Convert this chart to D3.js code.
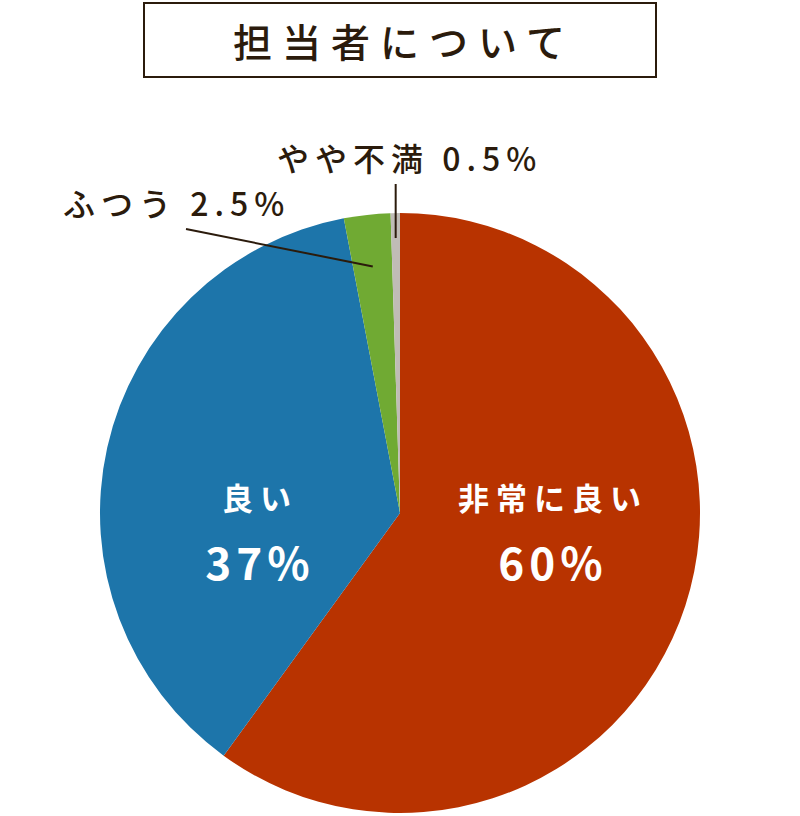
<!DOCTYPE html>
<html><head><meta charset="utf-8">
<script src="https://cdn.jsdelivr.net/npm/d3@7"></script>
<style>body{margin:0;background:#fff}</style>
</head><body>
<svg id="c" width="800" height="816"></svg>
<script>
const title = "担当者について";
const categories = ["非常に良い", "良い", "ふつう", "やや不満"];
const values = [60, 37, 2.5, 0.5];
const valueLabels = ["60%", "37%", "2.5%", "0.5%"];
const colors = ["#b83300", "#1d75aa", "#70aa33", "#c0bcb6"];

const svg = d3.select("#c");
const font = "'Noto Sans CJK JP', 'Noto Sans', sans-serif";
const dark = "#2b1b0c";

svg.append("rect").attr("x", 144).attr("y", 3).attr("width", 512).attr("height", 74)
  .attr("fill", "#fff").attr("stroke", dark).attr("stroke-width", 2);
svg.append("text").attr("x", 404).attr("y", 57).attr("text-anchor", "middle")
  .attr("font-family", font).attr("font-size", 39).attr("font-weight", 500)
  .attr("letter-spacing", 10).attr("fill", dark).text(title);

const cx = 400, cy = 513, r = 300;
const data = categories.map((c, i) => ({cat: c, value: values[i], label: valueLabels[i], color: colors[i]}));
const pie = d3.pie().value(d => d.value).sort(null);
const arcs = pie(data);
const arc = d3.arc().innerRadius(0).outerRadius(r);
const g = svg.append("g").attr("transform", `translate(${cx},${cy})`);
g.selectAll("path").data(arcs).join("path").attr("d", arc).attr("fill", d => d.data.color);

// inside labels
const inner = [{i:0, x:553, y1:510, y2:580}, {i:1, x:260, y1:510, y2:580}];
inner.forEach(o => {
  svg.append("text").attr("x", o.x).attr("y", o.y1).attr("text-anchor", "middle")
    .attr("font-family", font).attr("font-size", 31).attr("font-weight", 700)
    .attr("letter-spacing", 7).attr("fill", "#fff").text(categories[o.i]);
  svg.append("text").attr("x", o.x).attr("y", o.y2).attr("text-anchor", "middle")
    .attr("font-family", font).attr("font-size", 44).attr("font-weight", 700)
    .attr("letter-spacing", 5).attr("fill", "#fff").text(valueLabels[o.i]);
});

// outside labels
const pt = (a, rr) => [cx + rr * Math.sin(a), cy - rr * Math.cos(a)];
const aG = (arcs[2].startAngle + arcs[2].endAngle) / 2;
const aS = (arcs[3].startAngle + arcs[3].endAngle) / 2;
const pG = pt(aG, 248);
svg.append("line").attr("x1", 186).attr("y1", 229).attr("x2", pG[0]).attr("y2", pG[1])
  .attr("stroke", dark).attr("stroke-width", 2);
const pS = pt(aS, 275);
svg.append("line").attr("x1", pS[0]).attr("y1", 184).attr("x2", pS[0]).attr("y2", pS[1])
  .attr("stroke", dark).attr("stroke-width", 2);

svg.append("text").attr("x", 63).attr("y", 216)
  .attr("font-family", font).attr("font-size", 32).attr("font-weight", 500)
  .attr("letter-spacing", 6).attr("fill", dark).text(categories[2] + " " + valueLabels[2]);
svg.append("text").attr("x", 277).attr("y", 171)
  .attr("font-family", font).attr("font-size", 32).attr("font-weight", 500)
  .attr("letter-spacing", 6).attr("fill", dark).text(categories[3] + " " + valueLabels[3]);
</script>
</body></html>
